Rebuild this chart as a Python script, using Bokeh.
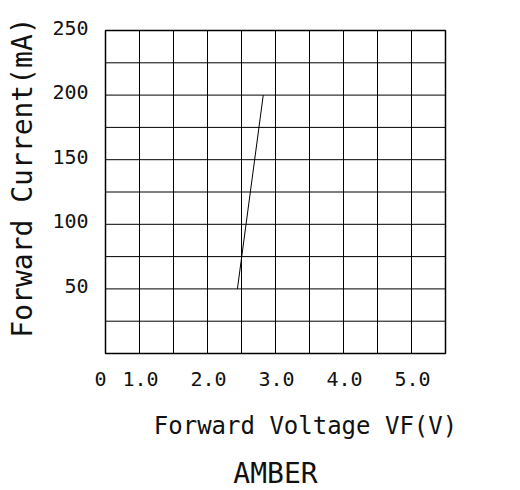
import numpy as np
from bokeh.plotting import figure
from bokeh.models import Range1d
from bokeh.core.properties import value
from bokeh.embed import file_html
from bokeh.resources import INLINE

# data
vf = [1.94, 2.32]
i_f = [50, 200]
x_tick_vals = [0.0, 1.0, 2.0, 3.0, 4.0, 5.0]
x_tick_text = ["0", "1.0", "2.0", "3.0", "4.0", "5.0"]
y_tick_vals = [50, 100, 150, 200, 250]
y_tick_text = ["50", "100", "150", "200", "250"]
x_label = "Forward Voltage VF(V)"
y_label = "Forward Current(mA)"
title_text = "AMBER"

FONT = value("DejaVu Sans Mono")
W, H = 520, 490
# chart box placement on the canvas (pixels) and its data extent
BL, BT, BW, BH = 105, 30, 340, 323
XMIN, XMAX, YMIN, YMAX = 0.0, 5.0, 0.0, 250.0
sx = BW / (XMAX - XMIN)
sy = BH / (YMAX - YMIN)

p = figure(width=W, height=H, output_backend="svg", toolbar_location=None,
           x_range=Range1d(XMIN - BL / sx, XMAX + (W - BL - BW) / sx),
           y_range=Range1d(YMIN - (H - BT - BH) / sy, YMAX + BT / sy),
           min_border=0)
p.axis.visible = False
p.grid.visible = False
p.outline_line_color = None
p.background_fill_color = "white"
p.border_fill_color = "white"

TEXT_COLOR = "#111111"

# grid inside the box
gx = np.arange(XMIN + 0.5, XMAX, 0.5)
gy = np.arange(YMIN + 25, YMAX, 25)
p.segment(x0=gx, y0=YMIN, x1=gx, y1=YMAX, line_color="black", line_width=1)
p.segment(x0=XMIN, y0=gy, x1=XMAX, y1=gy, line_color="black", line_width=1)
# box border
p.quad(left=XMIN, right=XMAX, bottom=YMIN, top=YMAX, fill_color=None,
       line_color="black", line_width=1.5)

# curve
p.line(vf, i_f, line_color="black", line_width=1)

# y tick labels
p.text(x=[XMIN] * len(y_tick_vals), y=y_tick_vals, text=y_tick_text, x_offset=-17, y_offset=-3,
       text_font=FONT, text_font_size="20px", text_align="right",
       text_baseline="middle", text_color=TEXT_COLOR)
# x tick labels (drawn left of their gridlines as in the source drawing)
p.text(x=x_tick_vals[:1], y=[YMIN], text=x_tick_text[:1], x_offset=-5, y_offset=25,
       text_font=FONT, text_font_size="20px", text_align="center",
       text_baseline="middle", text_color=TEXT_COLOR)
p.text(x=x_tick_vals[1:], y=[YMIN] * 5, text=x_tick_text[1:], x_offset=-33, y_offset=25,
       text_font=FONT, text_font_size="20px", text_align="center",
       text_baseline="middle", text_color=TEXT_COLOR)

# axis titles and caption
p.text(x=[XMIN + 200 / sx], y=[YMIN - 72 / sy], text=[x_label], text_font=FONT,
       text_font_size="24px", text_align="center", text_baseline="middle", text_color=TEXT_COLOR)
p.text(x=[XMIN - 83 / sx], y=[YMIN + 176 / sy], text=[y_label], text_font=FONT,
       text_font_size="28px", angle=np.pi / 2, text_align="center",
       text_baseline="middle", text_color=TEXT_COLOR)
p.text(x=[(XMIN + XMAX) / 2], y=[YMIN - 120 / sy], text=[title_text], text_font=FONT,
       text_font_size="28px", text_align="center", text_baseline="middle", text_color=TEXT_COLOR)

open("out.html", "w").write(file_html(p, INLINE))
